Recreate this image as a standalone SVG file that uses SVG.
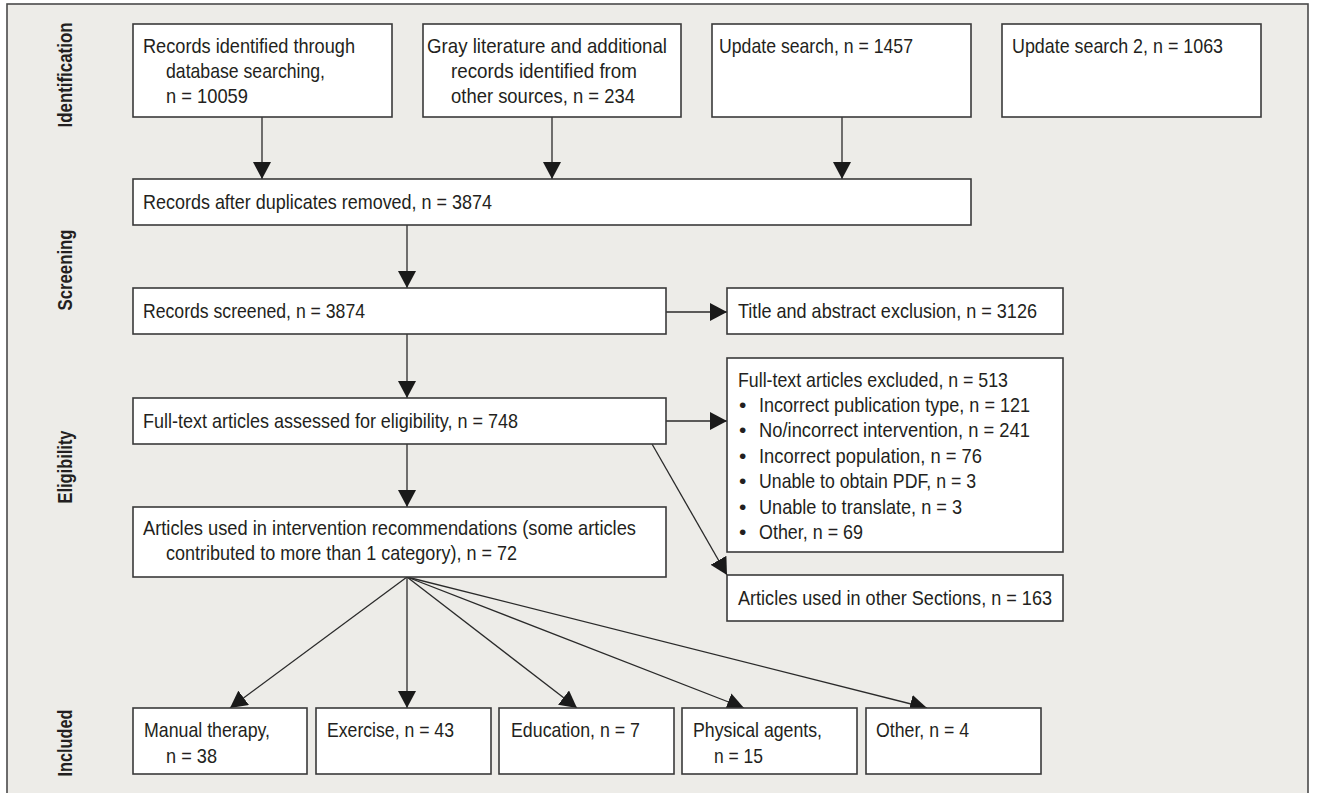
<svg xmlns="http://www.w3.org/2000/svg" width="1318" height="793" viewBox="0 0 1318 793">
<style>
.frame{fill:#EDECE8;stroke:#4a4a4a;stroke-width:1.6}
.box{fill:#FFFFFF;stroke:#3a3a3a;stroke-width:1.6}
.t{font-family:"Liberation Sans",Arial,sans-serif;font-size:21px;fill:#231F20}
.lab{font-family:"Liberation Sans",Arial,sans-serif;font-size:20px;font-weight:bold;fill:#231F20}
.conn line{stroke:#2a2a2a;stroke-width:1.3;fill:none}
</style>
<defs>
<marker id="ah" markerUnits="userSpaceOnUse" markerWidth="17" markerHeight="18" refX="17" refY="9" orient="auto">
<path d="M0,0 L17,9 L0,18 z" fill="#1a1a1a"/>
</marker>
</defs>
<rect class="frame" x="7" y="4" width="1301" height="800"/>
<g id="labels">
<text class="lab" transform="translate(72,75) rotate(-90)" text-anchor="middle" textLength="105" lengthAdjust="spacingAndGlyphs">Identification</text>
<text class="lab" transform="translate(72,270) rotate(-90)" text-anchor="middle" textLength="81" lengthAdjust="spacingAndGlyphs">Screening</text>
<text class="lab" transform="translate(72,467) rotate(-90)" text-anchor="middle" textLength="73" lengthAdjust="spacingAndGlyphs">Eligibility</text>
<text class="lab" transform="translate(72,743) rotate(-90)" text-anchor="middle" textLength="67" lengthAdjust="spacingAndGlyphs">Included</text>
</g>
<g id="connectors" class="conn">
<line x1="262" y1="117" x2="262" y2="179" marker-end="url(#ah)"/>
<line x1="552" y1="117" x2="552" y2="179" marker-end="url(#ah)"/>
<line x1="842" y1="117" x2="842" y2="179" marker-end="url(#ah)"/>
<line x1="407" y1="225" x2="407" y2="288" marker-end="url(#ah)"/>
<line x1="666" y1="312" x2="727" y2="312" marker-end="url(#ah)"/>
<line x1="407" y1="334" x2="407" y2="398" marker-end="url(#ah)"/>
<line x1="666" y1="421" x2="727" y2="421" marker-end="url(#ah)"/>
<line x1="652" y1="444" x2="727" y2="575" marker-end="url(#ah)"/>
<line x1="407" y1="444" x2="407" y2="507" marker-end="url(#ah)"/>
<line x1="407" y1="577" x2="230" y2="708" marker-end="url(#ah)"/>
<line x1="407" y1="577" x2="407" y2="708" marker-end="url(#ah)"/>
<line x1="407" y1="577" x2="577" y2="708" marker-end="url(#ah)"/>
<line x1="407" y1="577" x2="744" y2="708" marker-end="url(#ah)"/>
<line x1="407" y1="577" x2="927" y2="708" marker-end="url(#ah)"/>
</g>
<g id="n1">
<rect class="box" x="133" y="24" width="259" height="93"/>
<text class="t" x="143" y="53" textLength="212" lengthAdjust="spacingAndGlyphs">Records identified through</text>
<text class="t" x="166" y="78" textLength="159" lengthAdjust="spacingAndGlyphs">database searching,</text>
<text class="t" x="166" y="103" textLength="82" lengthAdjust="spacingAndGlyphs">n = 10059</text>
</g>
<g id="n2">
<rect class="box" x="423" y="24" width="258" height="93"/>
<text class="t" x="427" y="53" textLength="240" lengthAdjust="spacingAndGlyphs">Gray literature and additional</text>
<text class="t" x="451" y="78" textLength="186" lengthAdjust="spacingAndGlyphs">records identified from</text>
<text class="t" x="451" y="103" textLength="184" lengthAdjust="spacingAndGlyphs">other sources, n = 234</text>
</g>
<g id="n3">
<rect class="box" x="712" y="24" width="259" height="93"/>
<text class="t" x="719" y="53" textLength="194" lengthAdjust="spacingAndGlyphs">Update search, n = 1457</text>
</g>
<g id="n4">
<rect class="box" x="1002" y="24" width="259" height="93"/>
<text class="t" x="1012" y="53" textLength="211" lengthAdjust="spacingAndGlyphs">Update search 2, n = 1063</text>
</g>
<g id="n5">
<rect class="box" x="133" y="179" width="838" height="46"/>
<text class="t" x="143" y="209" textLength="349" lengthAdjust="spacingAndGlyphs">Records after duplicates removed, n = 3874</text>
</g>
<g id="n6">
<rect class="box" x="133" y="288" width="533" height="46"/>
<text class="t" x="143" y="318" textLength="222" lengthAdjust="spacingAndGlyphs">Records screened, n = 3874</text>
</g>
<g id="n7">
<rect class="box" x="727" y="288" width="336" height="46"/>
<text class="t" x="738" y="318" textLength="299" lengthAdjust="spacingAndGlyphs">Title and abstract exclusion, n = 3126</text>
</g>
<g id="n8">
<rect class="box" x="133" y="398" width="533" height="46"/>
<text class="t" x="143" y="428" textLength="375" lengthAdjust="spacingAndGlyphs">Full-text articles assessed for eligibility, n = 748</text>
</g>
<g id="n9">
<rect class="box" x="727" y="358" width="336" height="194"/>
<text class="t" x="738" y="387" textLength="270" lengthAdjust="spacingAndGlyphs">Full-text articles excluded, n = 513</text>
<text class="t" x="739" y="412">•</text>
<text class="t" x="759" y="412" textLength="271" lengthAdjust="spacingAndGlyphs">Incorrect publication type, n = 121</text>
<text class="t" x="739" y="437">•</text>
<text class="t" x="759" y="437" textLength="271" lengthAdjust="spacingAndGlyphs">No/incorrect intervention, n = 241</text>
<text class="t" x="739" y="463">•</text>
<text class="t" x="759" y="463" textLength="223" lengthAdjust="spacingAndGlyphs">Incorrect population, n = 76</text>
<text class="t" x="739" y="488">•</text>
<text class="t" x="759" y="488" textLength="217" lengthAdjust="spacingAndGlyphs">Unable to obtain PDF, n = 3</text>
<text class="t" x="739" y="514">•</text>
<text class="t" x="759" y="514" textLength="203" lengthAdjust="spacingAndGlyphs">Unable to translate, n = 3</text>
<text class="t" x="739" y="539">•</text>
<text class="t" x="759" y="539" textLength="104" lengthAdjust="spacingAndGlyphs">Other, n = 69</text>
</g>
<g id="n10">
<rect class="box" x="133" y="507" width="533" height="70"/>
<text class="t" x="143" y="535" textLength="493" lengthAdjust="spacingAndGlyphs">Articles used in intervention recommendations (some articles</text>
<text class="t" x="166" y="560" textLength="351" lengthAdjust="spacingAndGlyphs">contributed to more than 1 category), n = 72</text>
</g>
<g id="n11">
<rect class="box" x="727" y="575" width="336" height="46"/>
<text class="t" x="738" y="605" textLength="314" lengthAdjust="spacingAndGlyphs">Articles used in other Sections, n = 163</text>
</g>
<g id="n12">
<rect class="box" x="133" y="708" width="174" height="66"/>
<text class="t" x="144" y="737" textLength="126" lengthAdjust="spacingAndGlyphs">Manual therapy,</text>
<text class="t" x="166" y="763" textLength="51" lengthAdjust="spacingAndGlyphs">n = 38</text>
</g>
<g id="n13">
<rect class="box" x="316" y="708" width="175" height="66"/>
<text class="t" x="327" y="737" textLength="127" lengthAdjust="spacingAndGlyphs">Exercise, n = 43</text>
</g>
<g id="n14">
<rect class="box" x="499" y="708" width="175" height="66"/>
<text class="t" x="511" y="737" textLength="129" lengthAdjust="spacingAndGlyphs">Education, n = 7</text>
</g>
<g id="n15">
<rect class="box" x="682" y="708" width="175" height="66"/>
<text class="t" x="693" y="737" textLength="129" lengthAdjust="spacingAndGlyphs">Physical agents,</text>
<text class="t" x="714" y="763" textLength="49" lengthAdjust="spacingAndGlyphs">n = 15</text>
</g>
<g id="n16">
<rect class="box" x="866" y="708" width="175" height="66"/>
<text class="t" x="876" y="737" textLength="93" lengthAdjust="spacingAndGlyphs">Other, n = 4</text>
</g>
</svg>
